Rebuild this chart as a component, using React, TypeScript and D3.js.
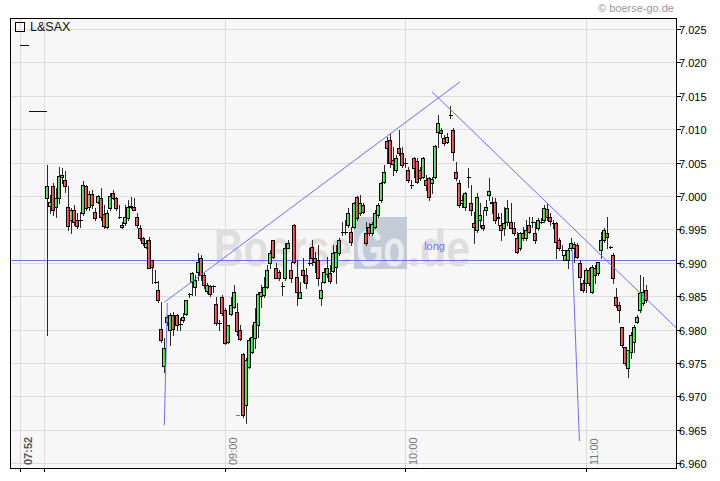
import React from 'react';
import * as d3 from 'd3';

const title = 'L&SAX';
const source = '© boerse-go.de';
const watermark = ['Boerse', 'Go', '.de'];
const note = 'long';

const priceTicks = [7.025, 7.02, 7.015, 7.01, 7.005, 7.0, 6.995, 6.99, 6.985, 6.98, 6.975, 6.97, 6.965, 6.96];
const timeGrid = ['07:52', '08:00', '09:00', '10:00', '11:00'];
const timeLabels = ['07:52', '09:00', '10:00', '11:00'];

// one bar per minute from firstBar: [open, high, low, close]
const firstBar = '08:01';
const bars = [
  [6.9997, 7.0047, 6.9792, 7.0015], [6.9985, 7.0002, 6.9975, 6.9991], [7.0015, 7.0020, 6.9972, 6.9979], [6.9984, 7.0012, 6.9969, 6.9997],
  [6.9997, 7.0044, 6.9990, 7.0030], [7.0029, 7.0042, 7.0020, 7.0032], [7.0024, 7.0038, 7.0006, 7.0015], [6.9984, 7.0015, 6.9949, 6.9955],
  [6.9964, 6.9982, 6.9945, 6.9979], [6.9979, 6.9987, 6.9957, 6.9961], [6.9964, 6.9975, 6.9952, 6.9955], [6.9964, 6.9976, 6.9954, 6.9964],
  [6.9975, 7.0023, 6.9972, 7.0017], [7.0015, 7.0017, 6.9979, 6.9982], [6.9984, 7.0008, 6.9979, 7.0003], [7.0003, 7.0009, 6.9982, 6.9987],
  [6.9976, 6.9982, 6.9964, 6.9967], [6.9991, 7.0002, 6.9990, 7.0000], [6.9997, 7.0012, 6.9964, 6.9969], [6.9973, 6.9987, 6.9952, 6.9955],
  [6.9954, 6.9979, 6.9952, 6.9975], [6.9982, 7.0005, 6.9979, 7.0000], [7.0005, 7.0009, 6.9996, 6.9997], [6.9997, 6.9999, 6.9979, 6.9982],
  [6.9969, 6.9987, 6.9967, 6.9969], [6.9954, 6.9961, 6.9952, 6.9957], [6.9960, 6.9987, 6.9957, 6.9969], [6.9967, 6.9994, 6.9964, 6.9984],
  [6.9984, 6.9999, 6.9982, 6.9985], [6.9984, 6.9997, 6.9979, 6.9979], [6.9969, 6.9975, 6.9954, 6.9957], [6.9952, 6.9957, 6.9934, 6.9937],
  [6.9937, 6.9939, 6.9927, 6.9930], [6.9924, 6.9934, 6.9922, 6.9930], [6.9934, 6.9939, 6.9892, 6.9892], [6.9904, 6.9904, 6.9870, 6.9894],
  [6.9871, 6.9889, 6.9870, 6.9871], [6.9859, 6.9873, 6.9841, 6.9844], [6.9801, 6.9841, 6.9781, 6.9784], [6.9745, 6.9787, 6.9736, 6.9772],
  [6.9811, 6.9822, 6.9807, 6.9819], [6.9799, 6.9825, 6.9777, 6.9822], [6.9822, 6.9826, 6.9792, 6.9801], [6.9822, 6.9823, 6.9799, 6.9807],
  [6.9808, 6.9817, 6.9799, 6.9808], [6.9814, 6.9825, 6.9811, 6.9819], [6.9823, 6.9844, 6.9822, 6.9844], [6.9853, 6.9855, 6.9849, 6.9853],
  [6.9871, 6.9886, 6.9852, 6.9885], [6.9864, 6.9882, 6.9852, 6.9874], [6.9886, 6.9915, 6.9874, 6.9901], [6.9907, 6.9912, 6.9874, 6.9882],
  [6.9882, 6.9885, 6.9862, 6.9867], [6.9858, 6.9870, 6.9855, 6.9867], [6.9865, 6.9867, 6.9850, 6.9853], [6.9865, 6.9867, 6.9856, 6.9865],
  [6.9838, 6.9849, 6.9807, 6.9810], [6.9810, 6.9814, 6.9799, 6.9810], [6.9849, 6.9852, 6.9822, 6.9825], [6.9829, 6.9832, 6.9778, 6.9780],
  [6.9781, 6.9807, 6.9780, 6.9807], [6.9823, 6.9849, 6.9822, 6.9837], [6.9834, 6.9867, 6.9832, 6.9856], [6.9826, 6.9840, 6.9792, 6.9798],
  [6.9799, 6.9807, 6.9784, 6.9786], [6.9763, 6.9765, 6.9669, 6.9672], [6.9688, 6.9757, 6.9661, 6.9754], [6.9744, 6.9787, 6.9742, 6.9784],
  [6.9766, 6.9807, 6.9765, 6.9789], [6.9787, 6.9832, 6.9772, 6.9811], [6.9807, 6.9856, 6.9789, 6.9853], [6.9850, 6.9867, 6.9834, 6.9856],
  [6.9852, 6.9879, 6.9849, 6.9864], [6.9864, 6.9897, 6.9862, 6.9889], [6.9900, 6.9919, 6.9892, 6.9915], [6.9934, 6.9934, 6.9907, 6.9909],
  [6.9892, 6.9900, 6.9877, 6.9877], [6.9886, 6.9889, 6.9874, 6.9877], [6.9865, 6.9871, 6.9852, 6.9865], [6.9877, 6.9930, 6.9874, 6.9922],
  [6.9922, 6.9934, 6.9922, 6.9930], [6.9889, 6.9901, 6.9871, 6.9877], [6.9957, 6.9958, 6.9900, 6.9901], [6.9879, 6.9904, 6.9837, 6.9856],
  [6.9847, 6.9871, 6.9847, 6.9856], [6.9889, 6.9907, 6.9871, 6.9882], [6.9882, 6.9892, 6.9862, 6.9870], [6.9900, 6.9922, 6.9897, 6.9900],
  [6.9924, 6.9934, 6.9897, 6.9907], [6.9907, 6.9916, 6.9886, 6.9901], [6.9904, 6.9927, 6.9867, 6.9877], [6.9847, 6.9871, 6.9837, 6.9859],
  [6.9871, 6.9892, 6.9870, 6.9886], [6.9883, 6.9909, 6.9879, 6.9892], [6.9885, 6.9897, 6.9870, 6.9873], [6.9888, 6.9927, 6.9886, 6.9915],
  [6.9894, 6.9927, 6.9870, 6.9916], [6.9915, 6.9937, 6.9912, 6.9934], [6.9946, 6.9961, 6.9942, 6.9946], [6.9946, 6.9964, 6.9943, 6.9946],
  [6.9957, 6.9982, 6.9954, 6.9975], [6.9946, 6.9954, 6.9927, 6.9931], [6.9954, 6.9991, 6.9952, 6.9990], [6.9999, 7.0000, 6.9964, 6.9967],
  [6.9975, 7.0002, 6.9972, 6.9990], [6.9987, 6.9990, 6.9975, 6.9976], [6.9945, 6.9961, 6.9927, 6.9930], [6.9954, 6.9960, 6.9942, 6.9945],
  [6.9945, 6.9961, 6.9942, 6.9958], [6.9954, 6.9979, 6.9952, 6.9975], [6.9972, 6.9990, 6.9969, 6.9987], [6.9994, 7.0021, 6.9991, 7.0020],
  [7.0021, 7.0047, 7.0020, 7.0036], [7.0083, 7.0089, 7.0050, 7.0072], [7.0084, 7.0095, 7.0044, 7.0050], [7.0054, 7.0074, 7.0032, 7.0048],
  [7.0039, 7.0062, 7.0036, 7.0057], [7.0072, 7.0099, 7.0062, 7.0065], [7.0065, 7.0074, 7.0044, 7.0047], [7.0050, 7.0057, 7.0044, 7.0050],
  [7.0039, 7.0044, 7.0021, 7.0024], [7.0017, 7.0024, 7.0012, 7.0017], [7.0057, 7.0059, 7.0029, 7.0042], [7.0053, 7.0057, 7.0020, 7.0021],
  [7.0039, 7.0044, 7.0024, 7.0027], [7.0029, 7.0059, 7.0027, 7.0057], [7.0024, 7.0032, 7.0009, 7.0017], [7.0027, 7.0029, 6.9994, 6.9999],
  [7.0020, 7.0029, 7.0005, 7.0026], [7.0029, 7.0077, 7.0027, 7.0075], [7.0096, 7.0122, 7.0074, 7.0110], [7.0099, 7.0102, 7.0089, 7.0095],
  [7.0087, 7.0092, 7.0077, 7.0080], [7.0081, 7.0095, 7.0080, 7.0089], [7.0122, 7.0135, 7.0117, 7.0122], [7.0099, 7.0102, 7.0054, 7.0066],
  [7.0036, 7.0051, 7.0024, 7.0027], [7.0020, 7.0024, 6.9984, 6.9987], [6.9990, 7.0002, 6.9984, 6.9994], [6.9984, 7.0006, 6.9979, 7.0005],
  [7.0029, 7.0042, 7.0014, 7.0029], [6.9990, 7.0017, 6.9972, 6.9979], [6.9960, 6.9976, 6.9930, 6.9954], [6.9949, 7.0005, 6.9946, 6.9999],
  [6.9964, 6.9990, 6.9954, 6.9972], [6.9957, 6.9979, 6.9949, 6.9952], [6.9979, 6.9994, 6.9972, 6.9984], [7.0002, 7.0027, 6.9994, 7.0008],
  [6.9991, 6.9999, 6.9975, 6.9990], [6.9991, 6.9997, 6.9960, 6.9964], [6.9969, 6.9975, 6.9957, 6.9967], [6.9957, 6.9975, 6.9934, 6.9949],
  [6.9952, 6.9984, 6.9942, 6.9960], [6.9961, 6.9994, 6.9957, 6.9982], [6.9961, 6.9990, 6.9952, 6.9952], [6.9952, 6.9961, 6.9942, 6.9945],
  [6.9937, 6.9946, 6.9915, 6.9916], [6.9922, 6.9946, 6.9919, 6.9945], [6.9945, 6.9954, 6.9934, 6.9937], [6.9937, 6.9964, 6.9934, 6.9949],
  [6.9957, 6.9969, 6.9945, 6.9946], [6.9961, 6.9969, 6.9954, 6.9961], [6.9945, 6.9961, 6.9930, 6.9934], [6.9952, 6.9967, 6.9949, 6.9964],
  [6.9961, 6.9967, 6.9960, 6.9961], [6.9964, 6.9987, 6.9961, 6.9982], [6.9981, 6.9990, 6.9964, 6.9969], [6.9969, 6.9975, 6.9957, 6.9963],
  [6.9960, 6.9964, 6.9952, 6.9960], [6.9960, 6.9961, 6.9907, 6.9931], [6.9934, 6.9937, 6.9919, 6.9922], [6.9919, 6.9927, 6.9912, 6.9919],
  [6.9904, 6.9919, 6.9904, 6.9912], [6.9904, 6.9922, 6.9892, 6.9919], [6.9922, 6.9937, 6.9919, 6.9930], [6.9928, 6.9931, 6.9901, 6.9922],
  [6.9927, 6.9930, 6.9907, 6.9909], [6.9900, 6.9904, 6.9859, 6.9879], [6.9870, 6.9874, 6.9856, 6.9859], [6.9870, 6.9892, 6.9856, 6.9889],
  [6.9889, 6.9892, 6.9867, 6.9870], [6.9856, 6.9897, 6.9855, 6.9894], [6.9892, 6.9897, 6.9870, 6.9882], [6.9885, 6.9901, 6.9882, 6.9901],
  [6.9919, 6.9946, 6.9907, 6.9934], [6.9934, 6.9952, 6.9931, 6.9949], [6.9945, 6.9969, 6.9922, 6.9939], [6.9924, 6.9925, 6.9922, 6.9924],
  [6.9912, 6.9915, 6.9870, 6.9877], [6.9849, 6.9862, 6.9834, 6.9837], [6.9837, 6.9841, 6.9811, 6.9829], [6.9804, 6.9804, 6.9774, 6.9777],
  [6.9774, 6.9774, 6.9747, 6.9750], [6.9742, 6.9769, 6.9729, 6.9769], [6.9766, 6.9796, 6.9757, 6.9792], [6.9781, 6.9807, 6.9766, 6.9804],
  [6.9811, 6.9822, 6.9810, 6.9819], [6.9829, 6.9882, 6.9826, 6.9855], [6.9840, 6.9879, 6.9837, 6.9856], [6.9859, 6.9867, 6.9841, 6.9844],
];

// flat quotes before the open: [from, to, price]
const preMarket = [
  ['07:52', '07:55', 7.0226],
  ['07:55', '08:01', 7.0127],
];

// drawn tools
const levelLine = 6.9905;
const toolLines = [
  ['08:39:57', 6.9841, '10:18:13', 7.0171],
  ['10:08:55', 7.0156, '11:30:00', 6.9803],
  ['08:40:57', 6.9840, '08:39:57', 6.9657],
  ['10:55:30', 6.9919, '10:57:54', 6.9633],
];
const lowMark = ['09:03:54', '09:05:12', 6.9672];
const noteAt = ['10:06:18', 6.9919];

const W = 720;
const H = 481;
const left = 10;
const right = 676;
const top = 18;
const bottom = 468;

const parseT = d3.timeParse('%H:%M:%S');
const T = (s: string) => parseT(s.length === 5 ? s + ':00' : s) as Date;

const x = d3.scaleTime().domain([T('07:48:40'), T('11:30:00')]).range([left, right]);
const y = d3.scaleLinear().domain([6.96, 7.025]).range([463.3, 29]);
const fmt = d3.format('.3f');
const px = (v: number) => Math.round(v) + 0.5;

const font = 'Liberation Sans, Arial, sans-serif';

export default function App() {
  const start = T(firstBar);
  const blue = '#6e6eff';

  return (
    <svg width={W} height={H} style={{ position: 'absolute', left: 0, top: 0, display: 'block' }}>
      <defs>
        <linearGradient id="gUp" x1="0" x2="1" y1="0" y2="0">
          <stop offset="0" stopColor="#a8f0a8" />
          <stop offset="1" stopColor="#00c800" />
        </linearGradient>
        <linearGradient id="gDn" x1="0" x2="1" y1="0" y2="0">
          <stop offset="0" stopColor="#f4a0a0" />
          <stop offset="1" stopColor="#e00000" />
        </linearGradient>
        <clipPath id="plot">
          <rect x={left} y={top} width={right - left} height={bottom - top} />
        </clipPath>
      </defs>
      <rect width={W} height={H} fill="#fff" />
      <rect x={left} y={top} width={right - left} height={bottom - top} fill="#f7f7f7" />

      <g shapeRendering="crispEdges" stroke="#dcdcdc">
        {priceTicks.map((p) => (
          <line key={p} x1={left} x2={right} y1={px(y(p))} y2={px(y(p))} />
        ))}
        {timeGrid.map((t) => (
          <line key={t} x1={px(x(T(t)))} x2={px(x(T(t)))} y1={top} y2={bottom} />
        ))}
      </g>

      {/* watermark */}
      <g fontFamily={font} fontWeight="bold" fontSize={52}>
        <rect x={354} y={217} width={53} height={52} fill="#c3cbd7" />
        <text x={214} y={266} fill="#dedede" textLength={138} lengthAdjust="spacingAndGlyphs">{watermark[0]}</text>
        <text x={356} y={266} fill="#e9edf2" textLength={49} lengthAdjust="spacingAndGlyphs">{watermark[1]}</text>
        <text x={408} y={266} fill="#dedede" textLength={62} lengthAdjust="spacingAndGlyphs">{watermark[2]}</text>
      </g>

      {/* legend */}
      <rect x={15.5} y={22.5} width={9} height={9} fill="none" stroke="#000" shapeRendering="crispEdges" />
      <text x={30} y={31} fontFamily={font} fontSize={12.5} fill="#111">{title}</text>
      <text x={674} y={12} fontFamily={font} fontSize={11} fill="#999" textAnchor="end">{source}</text>

      <g clipPath="url(#plot)">
        <line x1={left} x2={right} y1={px(y(levelLine))} y2={px(y(levelLine))} stroke={blue} shapeRendering="crispEdges" />

        <g shapeRendering="crispEdges">
          {preMarket.map(([a, b, p]) => (
            <line key={a as string} x1={Math.round(x(T(a as string)))} x2={Math.round(x(T(b as string)))}
              y1={px(y(p as number))} y2={px(y(p as number))} stroke="#111" />
          ))}
          {bars.map(([o, h, l, c], i) => {
            const cx = Math.round(x(d3.timeMinute.offset(start, i)));
            const yo = Math.round(y(o));
            const yc = Math.round(y(c));
            const yt = Math.min(yo, yc);
            const yb = Math.max(yo, yc);
            return (
              <g key={i}>
                <line x1={cx + 0.5} x2={cx + 0.5} y1={Math.round(y(h))} y2={Math.round(y(l)) + 1} stroke="#2a2a2a" />
                {yb - yt < 1 ? (
                  <line x1={cx - 1} x2={cx + 3} y1={yt + 0.5} y2={yt + 0.5} stroke="#000" />
                ) : (
                  <rect x={cx - 1.5} y={yt + 0.5} width={3} height={yb - yt}
                    fill={c >= o ? 'url(#gUp)' : 'url(#gDn)'} stroke="#000" />
                )}
              </g>
            );
          })}
        </g>

        {toolLines.map(([a, pa, b, pb], i) => (
          <line key={i} x1={x(T(a as string))} y1={y(pa as number)} x2={x(T(b as string))} y2={y(pb as number)}
            stroke={blue} strokeWidth={1} />
        ))}
        <line x1={Math.round(x(T(lowMark[0] as string)))} x2={Math.round(x(T(lowMark[1] as string)))}
          y1={px(y(lowMark[2] as number))} y2={px(y(lowMark[2] as number))} stroke={blue} shapeRendering="crispEdges" />
        <text x={x(T(noteAt[0] as string))} y={y(noteAt[1] as number)} fontFamily={font} fontSize={11} fill={blue}>{note}</text>
      </g>

      {/* time labels */}
      {timeLabels.map((t, i) => (
        <text key={t} transform={`translate(${px(x(T(t))) + 11},465) rotate(-90)`} fontFamily={font} fontSize={11}
          fill={i === 0 ? '#555' : '#777'} fontWeight={i === 0 ? 'bold' : 'normal'}>{t}</text>
      ))}

      {/* frame and axes */}
      <rect x={left + 0.5} y={top + 0.5} width={right - left} height={bottom - top} fill="none" stroke="#000" shapeRendering="crispEdges" />
      <g shapeRendering="crispEdges" stroke="#000">
        {priceTicks.map((p) => (
          <line key={p} x1={right + 0.5} x2={right + 4.5} y1={px(y(p))} y2={px(y(p))} />
        ))}
        {timeGrid.map((t) => (
          <line key={t} x1={px(x(T(t)))} x2={px(x(T(t)))} y1={bottom} y2={bottom + 4} />
        ))}
      </g>
      {priceTicks.map((p) => (
        <text key={p} x={679} y={px(y(p)) + 4} fontFamily={font} fontSize={11} fill="#000">{fmt(p)}</text>
      ))}
    </svg>
  );
}
